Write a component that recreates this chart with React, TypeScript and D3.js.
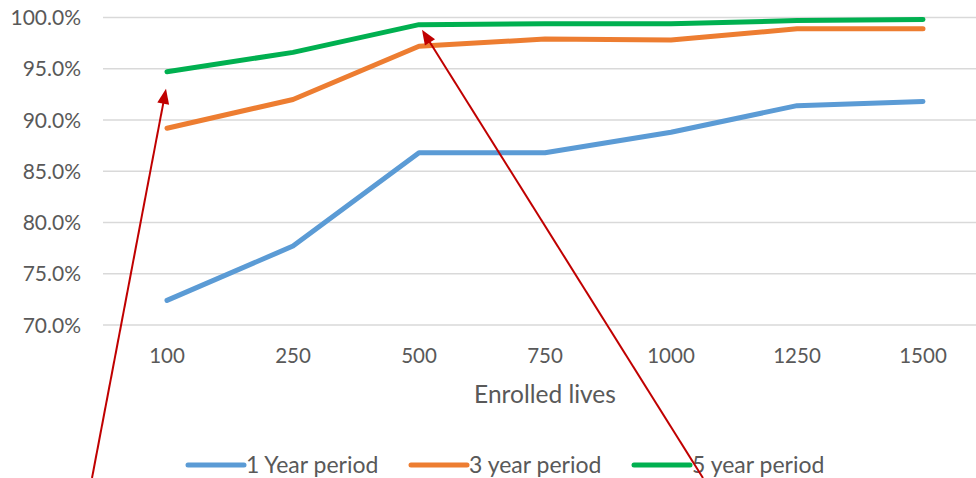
import React from "react";
import * as d3 from "d3";

const categories = ["100", "250", "500", "750", "1000", "1250", "1500"];
const oneYear = [72.4, 77.7, 86.8, 86.8, 88.8, 91.4, 91.8];
const threeYear = [89.2, 92.0, 97.2, 97.9, 97.8, 98.9, 98.9];
const fiveYear = [94.7, 96.6, 99.3, 99.4, 99.4, 99.7, 99.8];
const yTicks = [70, 75, 80, 85, 90, 95, 100];
const seriesNames = ["1 Year period", "3 year period", "5 year period"];
const colors = ["#5B9BD5", "#ED7D31", "#00B050"];
const arrowTargets = [
  { tail: [92, 478], cat: "100", value: 94.7, offset: [0, 17] },
  { tail: [703, 478], cat: "500", value: 99.3, offset: [4, 5] },
];

const W = 976;
const H = 478;
const FONT = "Lato, 'Open Sans', sans-serif";

export default function App() {
  const x = d3.scalePoint<string>().domain(categories).range([167, 923]);
  const y = d3.scaleLinear().domain([70, 100]).range([325, 17.5]);
  const line = d3
    .line<number>()
    .x((_, i) => x(categories[i]) as number)
    .y((d) => y(d));
  const series = [oneYear, threeYear, fiveYear];
  const legendX = [188, 411, 634];

  const arrow = (tail: number[], tip: number[], key: number) => {
    const dx = tip[0] - tail[0];
    const dy = tip[1] - tail[1];
    const len = Math.hypot(dx, dy);
    const ux = dx / len;
    const uy = dy / len;
    const hl = 15;
    const hw = 6;
    const bx = tip[0] - ux * hl;
    const by = tip[1] - uy * hl;
    const p1 = [bx - uy * hw, by + ux * hw];
    const p2 = [bx + uy * hw, by - ux * hw];
    return (
      <g key={key}>
        <line x1={tail[0]} y1={tail[1]} x2={bx + ux * 2} y2={by + uy * 2} stroke="#C00000" strokeWidth={2} />
        <polygon points={`${tip[0]},${tip[1]} ${p1[0]},${p1[1]} ${p2[0]},${p2[1]}`} fill="#C00000" />
      </g>
    );
  };

  return (
    <svg width={W} height={H} style={{ position: "absolute", left: 0, top: 0, background: "#fff" }} fontFamily={FONT}>
      <rect width={W} height={H} fill="#fff" />
      {yTicks.map((t) => (
        <g key={t}>
          <line x1={103} x2={986} y1={y(t)} y2={y(t)} stroke="#D9D9D9" strokeWidth={1.3} />
          <text x={81} y={y(t)} dy="0.36em" textAnchor="end" fontSize={21} fill="#595959">
            {t.toFixed(1)}%
          </text>
        </g>
      ))}
      {categories.map((c) => (
        <text key={c} x={x(c)} y={363} textAnchor="middle" fontSize={20.5} fill="#595959">
          {c}
        </text>
      ))}
      <text x={545} y={403} textAnchor="middle" fontSize={24.5} fill="#595959">
        Enrolled lives
      </text>
      {series.map((s, i) => (
        <path key={i} d={line(s) || ""} fill="none" stroke={colors[i]} strokeWidth={5} strokeLinejoin="round" strokeLinecap="round" />
      ))}
      {seriesNames.map((n, i) => (
        <g key={n}>
          <line x1={legendX[i]} x2={legendX[i] + 56} y1={465} y2={465} stroke={colors[i]} strokeWidth={5} strokeLinecap="round" />
          <text x={legendX[i] + 58} y={465} dy="0.36em" fontSize={23} fill="#595959">
            {n}
          </text>
        </g>
      ))}
      {arrowTargets.map((a, i) =>
        arrow(a.tail, [(x(a.cat) as number) + a.offset[0] - 1, y(a.value) + a.offset[1]], i)
      )}
    </svg>
  );
}
